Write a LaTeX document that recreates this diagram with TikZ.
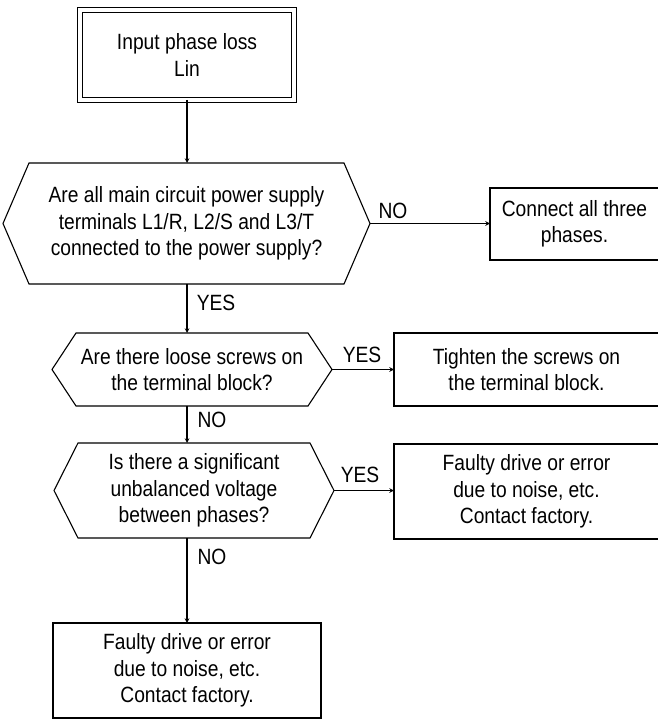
\documentclass[tikz,border=0pt]{standalone}
\usepackage{fontspec}
\setmainfont[FakeStretch=0.87]{Liberation Sans}
\tikzset{
    box/.style={draw, rectangle, align=center, inner sep=0pt, outer sep=0pt},
    decision/.style={rectangle, align=center, inner sep=0pt, outer sep=0pt},
    answer/.style={inner sep=0pt},
}
% hexagon round a decision node: name, tip length
\newcommand\hexdraw[2]{%
    \draw (#1.north west) -- (#1.north east) -- ([xshift=#2]#1.east) coordinate (#1 tip)
        -- (#1.south east) -- (#1.south west) -- ([xshift=-#2]#1.west) -- cycle;}

\begin{document}
\begin{tikzpicture}[x=1pt, y=-1pt, >=stealth, line width=1.1pt,
    font=\fontsize{22.1}{26.5}\selectfont]
    \useasboundingbox (0,0) rectangle (657,719);

    % Start
    \node[box, double, double distance=4pt, minimum width=214pt, minimum height=90pt]
        (start) at (187,55) {Input phase loss\\Lin};

    % Q1
    \node[decision, minimum width=315pt, minimum height=121pt] (q1) at (186.5,223.5)
        {Are all main circuit power supply\\terminals L1/R, L2/S and L3/T\\connected to the power supply?};
    \hexdraw{q1}{26pt}
    \node[box, minimum width=169pt, minimum height=72pt] (a1) at (574.5,224)
        {Connect all three\\phases.};

    % Q2
    \node[decision, minimum width=232pt, minimum height=73pt] (q2) at (192,369.5)
        {Are there loose screws on\\the terminal block?};
    \hexdraw{q2}{24pt}
    \node[box, minimum width=265pt, minimum height=73pt] (a2) at (526.5,369.5)
        {Tighten the screws on\\the terminal block.};

    % Q3
    \node[decision, minimum width=232pt, minimum height=95pt] (q3) at (194,490.5)
        {Is there a significant\\unbalanced voltage\\between phases?};
    \hexdraw{q3}{24pt}
    \node[box, minimum width=265pt, minimum height=95pt] (a3) at (526.5,491.5)
        {Faulty drive or error\\due to noise, etc.\\Contact factory.};

    % End
    \node[box, minimum width=268pt, minimum height=95pt] (a4) at (187,670.5)
        {Faulty drive or error\\due to noise, etc.\\Contact factory.};

    % Arrows
    \draw[->] (start.south) -- (start.south |- q1.north);
    \draw[->] (q1.south -| start) -- (start |- q2.north);
    \draw[->] (q2.south -| start) -- (start |- q3.north);
    \draw[->] (q3.south -| start) -- (start |- a4.north);
    \draw[->] (q1 tip) -- (q1 tip -| a1.west);
    \draw[->] (q2 tip) -- (q2 tip -| a2.west);
    \draw[->] (q3 tip) -- (q3 tip -| a3.west);

    % Labels
    \node[answer] (no1) at (393,211) {NO};
    \node[answer] (yes1) at (216,303) {YES};
    \node[answer] (yes2) at (362,355) {YES};
    \node[answer] (no2) at (212,420) {NO};
    \node[answer] (yes3) at (360,475) {YES};
    \node[answer] (no3) at (212,557) {NO};
\end{tikzpicture}
\end{document}
